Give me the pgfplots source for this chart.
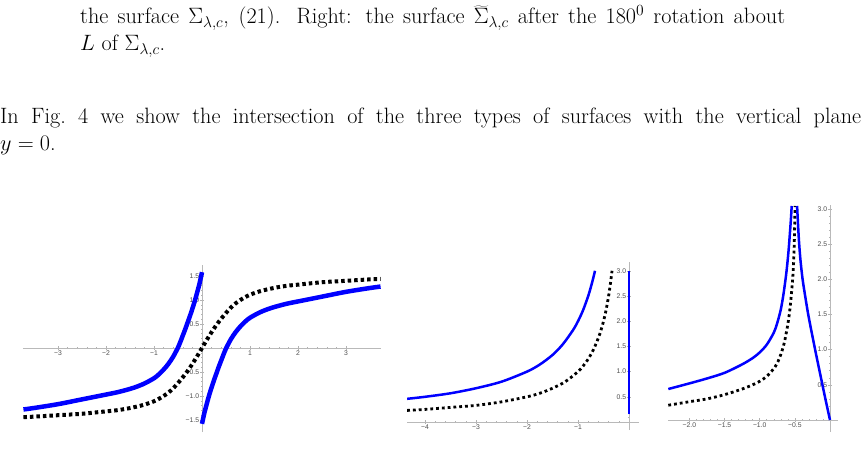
\RequirePackage{fix-cm}
\documentclass[border=0pt]{standalone}
\usepackage{fontspec}
\usepackage{pgfplots}
\pgfplotsset{compat=1.18}
\newfontfamily\tickfont{Liberation Sans}

\pgfplotsset{
  mma/.style={
    axis lines=middle,
    axis line style={draw=gray!55, line width=0.6pt, -},
    every tick/.style={draw=gray!60, line width=0.5pt},
    major tick length=3.5pt,
    minor tick length=2pt,
    tick label style={font=\tickfont\fontsize{6.8}{7}\selectfont, text=black!70, inner sep=1pt},
    clip=false,
  },
  bluefat/.style={blue, line width=4.5pt, smooth},
  dotfat/.style={black, line width=4pt, dash pattern=on 3.5pt off 3pt, smooth},
  bluethin/.style={blue, line width=2.5pt, smooth},
  dotthin/.style={black, line width=2.8pt, dash pattern=on 2.8pt off 3pt, smooth},
}

\newcommand\pagefont{\fontsize{22.2}{27}\selectfont}

\begin{document}
\begin{tikzpicture}
\useasboundingbox (0pt,0pt) rectangle (861pt,-460pt);
\clip (0pt,0pt) rectangle (861pt,-460pt);

% text of the page
\node[anchor=base west, inner sep=0pt] at (80pt,-24pt)
  {\pagefont\makebox[705pt][s]{the surface $\Sigma_{\lambda,c}$, (21). Right: the surface $\widetilde{\Sigma}_{\lambda,c}$ after the $180^0$ rotation about}};
\node[anchor=base west, inner sep=0pt] at (80pt,-51pt)
  {\pagefont $L$ of $\Sigma_{\lambda,c}$.};
\node[anchor=base west, inner sep=0pt] at (0pt,-123pt)
  {\pagefont\makebox[861pt][s]{In Fig.~4 we show the intersection of the three types of surfaces with the vertical plane}};
\node[anchor=base west, inner sep=0pt] at (0pt,-150pt)
  {\pagefont $y=0$.};

% left panel
\begin{axis}[mma, at={(202pt,-348pt)}, anchor=origin,
  x=48pt, y=48pt,
  xmin=-3.73, xmax=3.72, ymin=-1.75, ymax=1.73,
  xtick={-3,...,3}, xticklabels={−3,−2,−1,,1,2,3},
  ytick={-1.5,-1,-0.5,0,0.5,1,1.5}, yticklabels={−1.5,−1.0,−0.5,,0.5,1.0,1.5},
  minor x tick num=4, minor y tick num=4]
\addplot[dotfat] coordinates {
(-3.72,-1.44) (-3.5,-1.43) (-3.0,-1.40) (-2.5,-1.37) (-2.0,-1.32) (-1.8,-1.30)
(-1.6,-1.27) (-1.4,-1.23) (-1.2,-1.18) (-1.0,-1.11) (-0.9,-1.06) (-0.8,-1.00)
(-0.7,-0.93) (-0.6,-0.84) (-0.5,-0.73) (-0.4,-0.61) (-0.3,-0.48) (-0.2,-0.33)
(-0.1,-0.17) (0,0) (0.1,0.17) (0.2,0.33) (0.3,0.48) (0.4,0.61) (0.5,0.73)
(0.6,0.84) (0.7,0.93) (0.8,1.00) (0.9,1.06) (1.0,1.11) (1.2,1.18) (1.4,1.23)
(1.6,1.27) (1.8,1.30) (2.0,1.32) (2.5,1.37) (3.0,1.40) (3.5,1.43) (3.72,1.44)
};
\addplot[bluefat] coordinates {
(-3.72,-1.28) (-3.5,-1.25) (-3.0,-1.17) (-2.5,-1.07) (-2.0,-0.97) (-1.8,-0.93)
(-1.6,-0.88) (-1.4,-0.82) (-1.2,-0.74) (-1.0,-0.63) (-0.9,-0.55) (-0.8,-0.45)
(-0.7,-0.33) (-0.6,-0.18) (-0.5,0.01) (-0.45,0.13) (-0.4,0.26) (-0.35,0.39)
(-0.3,0.53) (-0.25,0.67) (-0.2,0.82) (-0.15,0.98) (-0.1,1.16) (-0.05,1.35) (0,1.58)
};
\addplot[bluefat] coordinates {
(0,-1.58) (0.05,-1.35) (0.1,-1.16) (0.15,-0.98) (0.2,-0.82) (0.25,-0.67)
(0.3,-0.53) (0.35,-0.39) (0.4,-0.26) (0.45,-0.13) (0.5,-0.01) (0.6,0.18)
(0.7,0.33) (0.8,0.45) (0.9,0.55) (1.0,0.63) (1.2,0.74) (1.4,0.82) (1.6,0.88)
(1.8,0.93) (2.0,0.97) (2.5,1.07) (3.0,1.17) (3.5,1.25) (3.72,1.28)
};
\end{axis}

% middle panel
\begin{axis}[mma, at={(629pt,-422pt)}, anchor=origin,
  x=51pt, y=50.4pt,
  xmin=-4.35, xmax=0.2, ymin=-0.16, ymax=3.17,
  xtick={-4,-3,-2,-1,0}, xticklabels={−4,−3,−2,−1,},
  ytick={0,0.5,1,1.5,2,2.5,3}, yticklabels={,0.5,1.0,1.5,2.0,2.5,3.0},
  minor x tick num=4, minor y tick num=4]
\addplot[dotthin] coordinates {
(-4.35,0.23) (-4.0,0.25) (-3.5,0.29) (-3.0,0.33) (-2.5,0.40) (-2.0,0.50)
(-1.75,0.57) (-1.5,0.67) (-1.25,0.80) (-1.0,1.00) (-0.9,1.11) (-0.8,1.25)
(-0.7,1.43) (-0.6,1.67) (-0.55,1.82) (-0.5,2.00) (-0.45,2.22) (-0.4,2.50)
(-0.36,2.78) (-0.333,3.00)
};
\addplot[bluethin] coordinates {
(-4.35,0.46) (-4.0,0.50) (-3.5,0.57) (-3.0,0.67) (-2.5,0.80) (-2.0,1.00)
(-1.75,1.14) (-1.5,1.33) (-1.3,1.54) (-1.1,1.82) (-1.0,2.00) (-0.9,2.22)
(-0.8,2.50) (-0.75,2.67) (-0.7,2.86) (-0.667,3.00)
};
\addplot[blue, line width=2.5pt] coordinates {(0,0.15) (0,3.0)};
\end{axis}

% right panel
\begin{axis}[mma, at={(830pt,-420pt)}, anchor=origin,
  x=70.3pt, y=70.4pt,
  xmin=-2.3, xmax=0.12, ymin=-0.17, ymax=3.05,
  xtick={-2,-1.5,-1,-0.5,0}, xticklabels={−2.0,−1.5,−1.0,−0.5,},
  ytick={0,0.5,1,1.5,2,2.5,3}, yticklabels={,0.5,1.0,1.5,2.0,2.5,3.0},
  minor x tick num=4, minor y tick num=4]
\addplot[dotthin] coordinates {
(-2.3,0.21) (-2.0,0.26) (-1.75,0.30) (-1.5,0.36) (-1.25,0.44) (-1.1,0.50)
(-1.0,0.55) (-0.9,0.62) (-0.8,0.73) (-0.75,0.81) (-0.7,0.93) (-0.65,1.10)
(-0.6,1.36) (-0.57,1.58) (-0.55,1.78) (-0.53,2.02) (-0.515,2.30) (-0.505,2.65)
(-0.497,3.04)
};
\addplot[bluethin] coordinates {
(-2.3,0.44) (-2.0,0.52) (-1.75,0.59) (-1.5,0.67) (-1.25,0.79) (-1.1,0.88)
(-1.0,0.96) (-0.9,1.07) (-0.8,1.24) (-0.75,1.38) (-0.7,1.57) (-0.66,1.80)
(-0.62,2.10) (-0.59,2.40) (-0.57,2.66) (-0.555,2.87) (-0.545,3.04)
};
\addplot[bluethin] coordinates {
(-0.468,3.04) (-0.455,2.78) (-0.44,2.52) (-0.42,2.27) (-0.39,2.00) (-0.35,1.74)
(-0.31,1.50) (-0.26,1.24) (-0.21,0.99) (-0.16,0.75) (-0.11,0.51) (-0.055,0.25)
(0,0)
};
\end{axis}
\end{tikzpicture}
\end{document}
